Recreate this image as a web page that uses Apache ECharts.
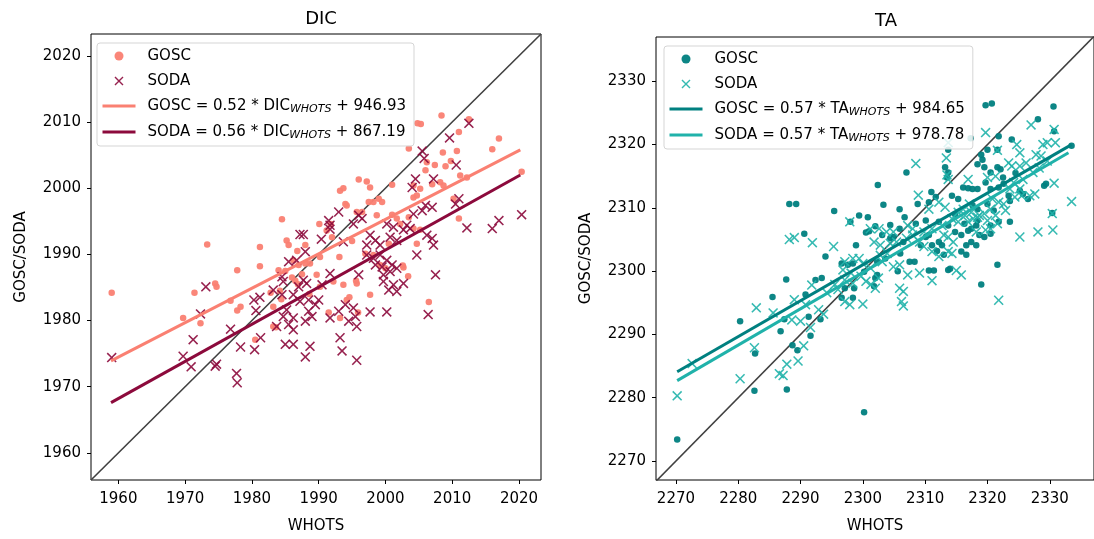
<!DOCTYPE html>
<html>
<head>
<meta charset="utf-8">
<script src="https://cdn.jsdelivr.net/npm/echarts@6/dist/echarts.min.js"></script>
<style>
html,body{margin:0;padding:0;background:#fff;}
#chart{width:1094px;height:539px;}
</style>
</head>
<body>
<div id="chart"></div>
<script>
// ---------------- data ----------------
var titles = ['DIC', 'TA'];
var dicTicks = [1960, 1970, 1980, 1990, 2000, 2010, 2020];
var taTicks = [2270, 2280, 2290, 2300, 2310, 2320, 2330];
var dicRange = [1955.9, 2023.3];
var taRangeX = [2266.8, 2337.1];
var taRangeY = [2267.0, 2337.0];

var dicGosc = [
[1959.0,1984.2],[1969.7,1980.4],[1971.4,1984.2],[1972.3,1979.6],[1973.3,1991.5],[1974.5,1985.6],[1974.7,1985.1],
[1976.8,1983.0],[1977.8,1987.6],[1977.8,1981.5],[1978.3,1982.1],[1980.5,1977.1],[1981.2,1991.1],[1981.2,1988.2],
[1983.2,1982.1],[1983.2,1979.1],[1984.0,1987.6],[1985.0,1987.5],[1984.2,1984.5],[1984.5,1995.3],[1985.2,1992.1],
[1985.5,1991.4],[1986.2,1989.1],[1987.0,1988.4],[1988.0,1988.6],[1988.7,1988.6],[1988.0,1991.4],[1989.7,1986.9],
[1990.1,1994.6],[1990.2,1989.6],[1990.2,1985.1],[1991.8,1994.6],[1992.0,1992.6],[1992.2,1985.9],[1993.1,1989.6],
[1993.2,1980.4],[1993.2,1999.6],[1993.7,2000.0],[1993.7,1985.4],[1994.0,1997.6],[1994.2,1997.4],[1994.2,1983.1],
[1995.0,1992.0],[1995.7,1996.4],[1995.7,1985.6],[1996.0,2001.3],[1996.5,1996.4],[1997.0,1990.1],[1997.2,2001.0],
[1997.5,1997.9],[1997.7,2000.1],[1997.7,1983.9],[1998.2,1997.9],[1998.2,1989.9],[1998.7,1995.9],[1999.0,1998.4],
[1999.2,1988.4],[1999.5,1997.9],[2000.0,1987.9],[2000.5,1991.6],[2001.0,2000.5],[2001.0,1996.0],[2001.7,1995.4],
[2002.2,1994.6],[2002.6,1988.3],[2003.5,2006.0],[2003.5,1995.6],[2004.2,2000.4],[2004.2,1998.6],[2004.2,1993.9],
[2004.7,1998.9],[2004.7,1991.6],[2004.8,2009.8],[2005.2,1999.9],[2005.2,1993.7],[2005.3,2009.7],[2006.0,2002.7],
[2006.2,2003.9],[2006.5,1982.8],[2007.0,2000.6],[2007.4,2003.5],[2008.2,2000.9],[2008.4,2011.0],[2008.6,2005.4],
[2008.7,2000.4],[2009.0,2003.3],[2009.8,2004.1],[2010.2,1998.4],[2010.7,2005.6],[2011.0,2008.5],[2011.0,1995.4],
[2011.2,2001.9],[2012.2,2001.6],[2012.5,2010.4],[2016.0,2005.9],[2017.0,2007.5],[2020.4,2002.5],
[1982.8,1984.2],[1983.6,1979.0],[1984.4,1983.2],[1986.5,1986.0],[1986.9,1985.5],[1988.6,1984.0],[1991.5,1981.2],
[1994.6,1983.5],[1995.6,1986.0],[1995.9,1981.2],[2002.7,1988.0],[2003.4,1986.7],[1991.2,1993.6],
[1986.8,1990.5],[1987.5,1987.0],[1986.0,1986.5]
];
var dicSoda = [
[1959.0,1974.4],[1969.7,1974.6],[1970.9,1973.0],[1971.2,1977.1],[1972.3,1981.0],[1973.1,1985.1],[1974.5,1973.1],
[1974.7,1973.4],[1976.8,1978.7],[1977.7,1972.0],[1977.8,1970.6],[1978.3,1976.0],[1980.3,1983.1],[1981.2,1983.5],
[1980.4,1975.6],[1980.6,1981.5],[1981.3,1977.4],[1983.2,1984.6],[1983.7,1979.1],[1984.5,1986.6],[1984.7,1985.9],
[1984.5,1983.9],[1984.7,1980.6],[1985.0,1976.4],[1985.2,1981.6],[1985.5,1988.9],[1985.5,1979.4],[1986.2,1983.9],
[1986.2,1980.4],[1986.2,1978.6],[1986.2,1976.4],[1986.7,1989.1],[1987.0,1985.1],[1987.2,1993.0],[1987.2,1982.9],
[1987.7,1993.0],[1987.7,1986.1],[1988.0,1990.4],[1988.0,1979.9],[1988.0,1974.5],[1988.2,1985.6],[1988.5,1983.1],
[1988.5,1981.4],[1988.7,1976.1],[1989.0,1980.6],[1989.5,1982.4],[1990.0,1983.1],[1990.4,1992.3],[1990.5,1985.4],
[1991.5,1995.1],[1991.7,1994.4],[1991.7,1993.8],[1991.7,1987.1],[1991.7,1980.4],[1993.0,1996.4],[1993.0,1981.4],
[1993.2,1977.4],[1993.5,1975.4],[1993.7,1991.9],[1994.0,1982.4],[1994.5,1979.9],[1995.2,1994.6],[1995.2,1981.9],
[1995.5,1980.6],[1995.7,1979.1],[1995.7,1974.0],[1996.0,1995.9],[1996.0,1986.9],[1996.5,1995.4],[1997.2,1991.4],
[1997.2,1989.9],[1997.7,1992.9],[1997.7,1981.3],[1998.2,1989.4],[1998.5,1992.1],[1998.5,1988.4],[1999.2,1991.4],
[1999.2,1989.9],[1999.5,1988.1],[1999.7,1986.9],[1999.7,1985.9],[2000.2,1994.6],[2000.2,1989.1],[2000.2,1981.3],
[2000.5,1984.6],[2000.7,1992.6],[2000.7,1987.4],[2001.0,1988.4],[2001.2,1994.1],[2001.2,1985.4],[2001.7,1992.1],
[2001.7,1987.9],[2001.7,1984.4],[2002.7,1993.7],[2002.7,1985.6],[2003.2,1994.4],[2003.7,1993.9],[2004.0,2000.1],
[2004.2,1996.1],[2004.5,2001.4],[2004.7,1989.9],[2005.5,2005.6],[2005.5,1996.6],[2005.8,2004.5],[2006.0,1997.4],
[2006.2,1992.9],[2006.4,1980.9],[2007.0,1997.1],[2007.0,1992.4],[2007.2,2001.4],[2007.2,1991.4],[2007.5,1986.9],
[2009.6,2007.6],[2010.5,1997.6],[2010.6,2003.5],[2011.0,1998.4],[2012.2,1994.0],[2012.5,2009.8],[2016.0,1993.9],
[2017.0,1995.1],[2020.4,1996.0]
];
var taGosc = [
[2270.2,2273.4],[2280.3,2292.1],[2282.7,2287.0],[2282.6,2281.1],[2285.5,2295.9],[2286.8,2290.5],[2287.7,2298.7],
[2287.8,2281.3],[2287.4,2292.4],[2288.7,2288.3],[2289.5,2287.5],[2300.2,2277.7],[2288.2,2310.6],[2289.3,2310.6],
[2290.6,2305.9],[2319.7,2326.2],[2320.7,2326.5],[2330.6,2326.0],[2328.1,2324.0],[2321.8,2321.3],[2317.3,2321.0],
[2323.9,2320.8],[2330.7,2322.1],[2313.7,2319.2],[2320.0,2319.2],[2321.6,2319.2],[2319.0,2318.4],[2333.5,2319.8],
[2319.2,2317.6],[2318.4,2316.9],[2319.5,2316.4],[2321.6,2316.4],[2322.1,2316.1],[2320.5,2315.6],[2307.0,2315.6],
[2313.2,2316.4],[2313.7,2315.6],[2313.5,2314.8],[2302.4,2313.6],[2316.1,2313.2],[2316.9,2313.1],[2317.6,2313.0],
[2318.4,2313.0],[2319.7,2314.0],[2320.5,2313.0],[2321.8,2313.2],[2322.6,2313.8],[2325.2,2312.7],[2325.7,2312.2],
[2329.1,2313.5],[2329.4,2313.8],[2295.4,2309.5],[2303.3,2310.5],[2305.9,2309.8],[2308.8,2310.6],[2310.6,2310.9],
[2311.7,2311.7],[2314.3,2311.9],[2315.3,2311.4],[2323.4,2311.9],[2323.6,2311.1],[2317.6,2310.4],[2318.4,2309.8],
[2320.0,2310.6],[2321.0,2309.6],[2326.5,2311.4],[2330.4,2309.2],[2299.4,2308.8],[2300.8,2308.5],[2306.7,2308.5],
[2298.0,2307.8],[2302.0,2307.1],[2304.4,2307.3],[2305.9,2306.7],[2308.5,2307.5],[2310.1,2308.0],[2312.2,2307.8],
[2313.7,2307.2],[2316.3,2307.5],[2317.4,2306.7],[2318.2,2307.2],[2320.5,2307.2],[2321.8,2307.8],[2323.6,2307.8],
[2300.5,2306.1],[2301.0,2306.3],[2303.1,2305.7],[2304.4,2305.2],[2304.9,2305.4],[2310.1,2305.4],[2310.6,2305.7],
[2314.8,2306.2],[2315.8,2305.7],[2316.9,2306.4],[2318.7,2305.7],[2319.5,2305.4],[2320.5,2305.9],[2298.9,2304.1],
[2306.5,2304.6],[2311.1,2304.1],[2312.7,2304.1],[2316.6,2304.1],[2317.4,2304.6],[2318.2,2304.1],[2294.0,2302.3],
[2296.6,2301.2],[2297.6,2301.0],[2298.4,2301.2],[2302.3,2301.5],[2303.6,2302.0],[2308.3,2301.5],[2311.9,2303.2],
[2313.0,2302.6],[2315.8,2303.1],[2316.6,2302.6],[2321.6,2301.0],[2310.6,2300.1],[2311.4,2300.1],[2313.7,2300.2],
[2292.4,2298.6],[2293.4,2298.9],[2301.8,2297.6],[2302.0,2298.9],[2298.6,2297.3],[2297.1,2297.3],[2319.0,2297.9],
[2300.2,2299.9],[2296.6,2295.8],[2298.4,2295.8],[2290.8,2296.3],[2291.3,2292.8],[2293.2,2292.4],[2291.6,2289.8],
[2305.6,2300.0],[2314.0,2300.4],
[2307.5,2301.5],[2309.3,2304.1],[2312.2,2304.6],[2318.4,2308.0],[2302.3,2299.4],[2314.8,2309.0],[2322.5,2314.8],
[2324.5,2315.5],[2311.0,2312.5],[2306.0,2302.8]
];
var taSoda = [
[2270.2,2280.3],[2272.6,2285.4],[2280.3,2283.0],[2282.6,2287.9],[2282.9,2294.2],[2285.6,2293.4],[2286.6,2283.8],
[2287.2,2283.5],[2287.8,2285.3],[2288.6,2292.3],[2289.0,2295.5],[2289.6,2285.8],[2288.2,2305.0],[2289.0,2305.3],
[2290.5,2288.2],[2313.7,2320.3],[2319.7,2321.9],[2327.0,2323.1],[2330.7,2322.4],[2324.7,2320.0],[2325.2,2318.7],
[2321.6,2319.1],[2328.9,2320.0],[2329.6,2320.3],[2330.9,2320.3],[2308.5,2317.0],[2313.4,2317.9],[2323.4,2317.1],
[2323.9,2316.6],[2325.2,2316.6],[2326.2,2317.1],[2327.8,2318.4],[2328.6,2318.2],[2313.5,2315.2],[2313.7,2314.5],
[2316.9,2314.5],[2320.0,2314.8],[2321.3,2315.0],[2324.2,2314.0],[2325.2,2313.0],[2330.7,2313.9],[2333.5,2311.0],
[2308.9,2312.0],[2310.6,2309.8],[2312.2,2310.9],[2313.2,2310.1],[2315.3,2309.3],[2316.1,2309.8],[2317.1,2310.6],
[2317.4,2309.3],[2318.4,2308.5],[2318.7,2308.8],[2320.8,2311.4],[2321.8,2310.9],[2322.6,2310.6],[2324.4,2311.7],
[2325.5,2311.9],[2326.8,2311.9],[2327.6,2312.2],[2330.4,2309.1],[2297.9,2307.8],[2301.2,2306.7],[2302.6,2306.7],
[2303.8,2306.2],[2304.9,2306.2],[2307.2,2307.2],[2308.0,2306.7],[2313.0,2305.7],[2313.7,2305.4],[2314.5,2304.6],
[2318.2,2306.2],[2319.7,2306.5],[2320.5,2306.7],[2321.6,2307.5],[2325.2,2305.4],[2328.1,2306.2],[2330.5,2306.5],
[2295.3,2303.9],[2291.9,2304.5],[2301.8,2304.6],[2302.8,2304.1],[2304.4,2304.4],[2305.4,2304.6],[2309.1,2304.6],
[2309.8,2303.9],[2313.7,2303.1],[2314.3,2302.8],[2297.1,2301.5],[2298.4,2302.0],[2300.0,2301.2],[2303.1,2301.5],
[2304.9,2300.7],[2305.9,2301.0],[2307.2,2299.4],[2309.1,2299.7],[2315.0,2300.1],[2315.8,2299.4],[2296.8,2300.2],
[2298.1,2299.7],[2299.7,2299.2],[2300.5,2298.4],[2301.3,2297.9],[2302.0,2297.3],[2305.9,2297.3],[2306.5,2296.8],
[2306.2,2295.2],[2306.5,2294.5],[2311.1,2298.5],[2321.8,2295.4],[2295.5,2297.9],[2296.0,2297.1],[2297.1,2295.2],
[2297.9,2294.7],[2300.0,2294.8],[2290.8,2294.7],[2293.7,2293.2],[2292.9,2293.9],[2290.0,2292.1],[2291.6,2291.1],
[2291.8,2297.8],
[2302.8,2302.5],[2303.9,2302.8],[2301.2,2300.5],[2299.4,2302.0],[2302.5,2298.9],[2307.0,2305.2],[2308.0,2305.7],
[2309.8,2306.2],[2311.1,2306.7],[2312.7,2307.2],[2314.3,2308.3],[2315.3,2307.8],[2316.4,2308.8],[2316.9,2307.8],
[2317.7,2308.3],[2319.5,2309.1],[2320.5,2309.8],[2320.0,2308.0],[2321.3,2308.8],[2322.9,2309.6],[2323.6,2313.0],
[2325.7,2314.5],[2327.3,2315.6],[2328.3,2316.3],[2329.6,2317.4],[2311.1,2303.1],[2312.2,2302.3],[2297.1,2298.6],
[2298.4,2298.1],[2294.2,2296.6]
];
// regression line end points and legend coefficients
var dicGoscFit = [[1958.9,1973.9],[2020.2,2005.8]];
var dicSodaFit = [[1958.9,1967.6],[2020.2,2002.0]];
var taGoscFit = [[2270.2,2284.1],[2333.5,2320.0]];
var taSodaFit = [[2270.2,2282.7],[2333.0,2318.7]];
var dicSlope = [0.52, 0.56], dicIntercept = [946.93, 867.19];
var taSlope = [0.57, 0.57], taIntercept = [984.65, 978.78];
var dicOneToOne = [[1955.9,1955.9],[2023.3,2023.3]];
var taOneToOne = [[2266.8,2266.8],[2337.1,2337.1]];

// ---------------- styles ----------------
var FONT = 'DejaVu Sans';
var C = {dGosc:'#fa8072', dSoda:'#8c0a3c', tGosc:'#008080', tSoda:'#20b2aa', diag:'#404040'};
var XPATH = 'path://M0,1.1L1.1,0L5,3.9L8.9,0L10,1.1L6.1,5L10,8.9L8.9,10L5,6.1L1.1,10L0,8.9L3.9,5Z';

var legendText = {
  dGosc: '{g|}{t|GOSC}', dSoda: '{g|}{t|SODA}',
  dGoscFit: '{g|}{t|GOSC = ' + dicSlope[0].toFixed(2) + ' * DIC}{s|WHOTS}{t| + ' + dicIntercept[0].toFixed(2) + '}',
  dSodaFit: '{g|}{t|SODA = ' + dicSlope[1].toFixed(2) + ' * DIC}{s|WHOTS}{t| + ' + dicIntercept[1].toFixed(2) + '}',
  tGosc: '{g|}{t|GOSC}', tSoda: '{g|}{t|SODA}',
  tGoscFit: '{g|}{t|GOSC = ' + taSlope[0].toFixed(2) + ' * TA}{s|WHOTS}{t| + ' + taIntercept[0].toFixed(2) + '}',
  tSodaFit: '{g|}{t|SODA = ' + taSlope[1].toFixed(2) + ' * TA}{s|WHOTS}{t| + ' + taIntercept[1].toFixed(2) + '}'
};

function plain(v) { return String(v); }
function axisX(idx, range, ticks) {
  return {
    type:'value', gridIndex:idx, min:range[0], max:range[1],
    name:'WHOTS', nameLocation:'middle', nameGap:39,
    nameTextStyle:{fontFamily:FONT, fontSize:15, color:'#000'},
    axisLine:{show:false},
    axisTick:{show:true, length:4, customValues:ticks, lineStyle:{color:'#000', width:1}},
    axisLabel:{customValues:ticks, formatter:plain, fontFamily:FONT, fontSize:15, color:'#000', margin:12},
    splitLine:{show:false}
  };
}
function axisY(idx, range, ticks) {
  return {
    type:'value', gridIndex:idx, min:range[0], max:range[1],
    name:'GOSC/SODA', nameLocation:'middle', nameGap:62,
    nameTextStyle:{fontFamily:FONT, fontSize:15, color:'#000'},
    axisLine:{show:false},
    axisTick:{show:true, length:4, customValues:ticks, lineStyle:{color:'#000', width:1}},
    axisLabel:{customValues:ticks, formatter:plain, fontFamily:FONT, fontSize:15, color:'#000', margin:10},
    splitLine:{show:false}
  };
}
function legend(left, top, names) {
  return {
    orient:'vertical', left:left, top:top,
    data:[{name:names[0]}, {name:names[1]},
          {name:names[2], itemStyle:{opacity:0}, lineStyle:{width:3}},
          {name:names[3], itemStyle:{opacity:0}, lineStyle:{width:3}}],
    itemWidth:33, itemHeight:9, itemGap:9,
    padding:[5,8,5,4],
    borderColor:'#d5d5d5', borderWidth:1, borderRadius:3,
    backgroundColor:'rgba(255,255,255,0.85)',
    selectedMode:false,
    formatter:function(n){ return legendText[n]; },
    textStyle:{fontFamily:FONT, fontSize:15, color:'#000', lineHeight:16,
      rich:{
        g:{width:7},
        t:{fontFamily:FONT, fontSize:15, color:'#000'},
        s:{fontFamily:FONT, fontSize:11, fontStyle:'italic', color:'#000', padding:[7,0,0,0]}
      }}
  };
}
function scatter(name, xi, data, color, isX) {
  return {
    type:'scatter', name:name, xAxisIndex:xi, yAxisIndex:xi, data:data,
    symbol: isX ? XPATH : 'circle', symbolSize: isX ? 10 : 6.5,
    itemStyle:{color:color, opacity: isX ? 0.9 : 0.95},
    silent:true, z:3
  };
}
function fit(name, xi, data, color) {
  return {
    type:'line', name:name, xAxisIndex:xi, yAxisIndex:xi, data:data,
    symbol:'none', lineStyle:{color:color, width:3}, itemStyle:{color:color},
    silent:true, z:5
  };
}
function diag(xi, data) {
  return {
    type:'line', name:'diag'+xi, xAxisIndex:xi, yAxisIndex:xi, data:data,
    symbol:'none', lineStyle:{color:C.diag, width:1.6}, silent:true, z:2
  };
}

var option = {
  animation:false,
  backgroundColor:'#fff',
  title:[
    {text:titles[0], left:316, top:5, textAlign:'center', textStyle:{fontFamily:FONT, fontSize:18, fontWeight:'normal', color:'#000'}},
    {text:titles[1], left:881, top:7, textAlign:'center', textStyle:{fontFamily:FONT, fontSize:18, fontWeight:'normal', color:'#000'}}
  ],
  grid:[
    {left:91, top:34, width:450, height:449, show:true, borderColor:'#000', borderWidth:1, backgroundColor:'transparent'},
    {left:656, top:37, width:450, height:447, show:true, borderColor:'#000', borderWidth:1, backgroundColor:'transparent'}
  ],
  xAxis:[axisX(0, dicRange, dicTicks), axisX(1, taRangeX, taTicks)],
  yAxis:[axisY(0, dicRange, dicTicks), axisY(1, taRangeY, taTicks)],
  legend:[
    legend(97, 43, ['dGosc','dSoda','dGoscFit','dSodaFit']),
    legend(664, 46, ['tGosc','tSoda','tGoscFit','tSodaFit'])
  ],
  series:[
    diag(0, dicOneToOne),
    scatter('dGosc', 0, dicGosc, C.dGosc, false),
    scatter('dSoda', 0, dicSoda, C.dSoda, true),
    fit('dGoscFit', 0, dicGoscFit, C.dGosc),
    fit('dSodaFit', 0, dicSodaFit, C.dSoda),
    diag(1, taOneToOne),
    scatter('tGosc', 1, taGosc, C.tGosc, false),
    scatter('tSoda', 1, taSoda, C.tSoda, true),
    fit('tGoscFit', 1, taGoscFit, C.tGosc),
    fit('tSodaFit', 1, taSodaFit, C.tSoda)
  ]
};
var chart = echarts.init(document.getElementById('chart'), null, {renderer:'canvas'});
chart.setOption(option);
</script>
</body>
</html>
